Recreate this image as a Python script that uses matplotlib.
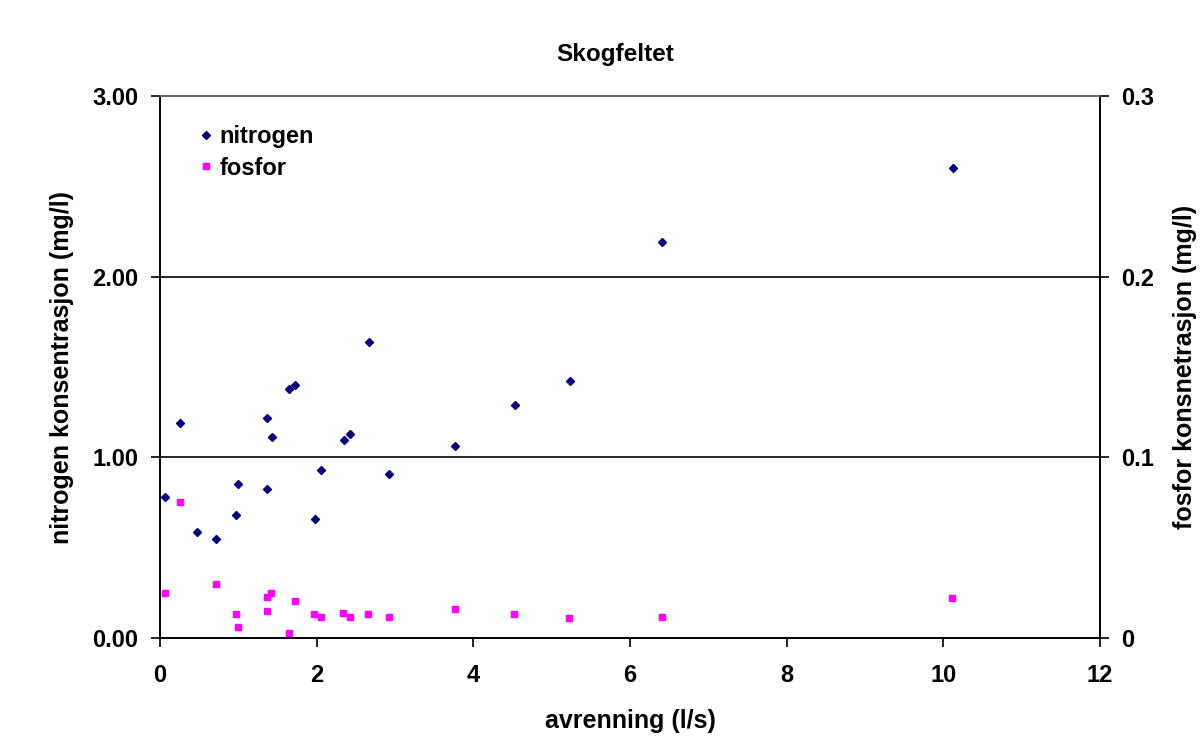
import matplotlib
matplotlib.use("Agg")
import matplotlib.pyplot as plt
from matplotlib.lines import Line2D

# Runoff (l/s) and concentrations, forest catchment
nitrogen_x = [0.07, 0.25, 0.47, 0.72, 0.97, 1.00, 1.37, 1.37, 1.43, 1.65, 1.72,
              1.98, 2.06, 2.35, 2.42, 2.67, 2.92, 3.77, 4.53, 5.23, 6.41, 10.12]
nitrogen_y = [0.78, 1.19, 0.585, 0.55, 0.68, 0.85, 1.22, 0.825, 1.115, 1.38, 1.40,
              0.66, 0.93, 1.095, 1.13, 1.64, 0.91, 1.06, 1.29, 1.425, 2.19, 2.60]

fosfor_x = [0.07, 0.25, 0.71, 0.97, 1.00, 1.37, 1.42, 1.37, 1.65, 1.72, 1.97,
            2.05, 2.34, 2.42, 2.66, 2.92, 3.77, 4.52, 5.22, 6.41, 10.11]
fosfor_y = [0.0249, 0.0753, 0.0297, 0.0131, 0.0063, 0.0229, 0.0249, 0.0151, 0.0028,
            0.0207, 0.0131, 0.0118, 0.0138, 0.0118, 0.0131, 0.0118, 0.0158, 0.0131,
            0.0111, 0.0118, 0.0221]

x_ticks = [0, 2, 4, 6, 8, 10, 12]
left_ticks = [0.0, 1.0, 2.0, 3.0]
left_tick_labels = ["0.00", "1.00", "2.00", "3.00"]
right_ticks = [0.0, 0.1, 0.2, 0.3]
right_tick_labels = ["0", "0.1", "0.2", "0.3"]

plt.rcParams["font.family"] = ["Liberation Sans", "DejaVu Sans"]
plt.rcParams["font.weight"] = "bold"
FS = 17
LFS = 18

fig = plt.figure(figsize=(12.02, 7.42), dpi=100)
ax = fig.add_axes([160 / 1202, 1 - 638 / 742, 940 / 1202, 542 / 742])
ax2 = ax.twinx()

navy = "#000080"
magenta = "#FF00FF"

ax.plot(nitrogen_x, nitrogen_y, linestyle="none", marker="D", ms=4.5,
        color=navy, mec=navy, zorder=3)
ax2.plot(fosfor_x, fosfor_y, linestyle="none", marker="s", ms=5,
         color=magenta, mec=magenta, zorder=3)

ax.set_xlim(0, 12)
ax.set_ylim(0, 3)
ax2.set_ylim(0, 0.3)

ax.set_xticks(x_ticks)
ax.set_xticklabels([str(t) for t in x_ticks])
ax.set_yticks(left_ticks)
ax.set_yticklabels(left_tick_labels)
ax2.set_yticks(right_ticks)
ax2.set_yticklabels(right_tick_labels)

# horizontal gridlines at major left ticks
for yv in left_ticks[1:3]:
    ax.axhline(yv, color="black", lw=1.2, zorder=1)

for a in (ax, ax2):
    for s in a.spines.values():
        s.set_color("black")
        s.set_linewidth(1.2)
    a.spines["top"].set_color("#666666")
    a.tick_params(direction="out", length=6.5, width=1.2, labelsize=FS)

ax.tick_params(axis="x", pad=12)
ax.tick_params(axis="y", pad=9)
ax2.tick_params(axis="y", pad=9)

ax.set_xlabel("avrenning (l/s)", fontsize=LFS, fontweight="bold", labelpad=16)
ax.set_ylabel("nitrogen konsentrasjon (mg/l)", fontsize=LFS, fontweight="bold", labelpad=13)
ax2.set_ylabel("fosfor konsnetrasjon (mg/l)", fontsize=LFS, fontweight="bold",
               rotation=90, labelpad=13)
ax.set_title("Skogfeltet", fontsize=17.5, fontweight="bold", pad=25, x=0.4846)

handles = [
    Line2D([], [], linestyle="none", marker="D", ms=4.0, color=navy, mec=navy),
    Line2D([], [], linestyle="none", marker="s", ms=5, color=magenta, mec=magenta),
]
leg = ax2.legend(handles, ["nitrogen", "fosfor"], loc="upper left",
                 bbox_to_anchor=(0.031, 0.963), borderaxespad=0, frameon=True,
                 fontsize=FS, handlelength=0.6, handletextpad=0.3, borderpad=0.4,
                 labelspacing=0.35, fancybox=False)
leg.get_frame().set_edgecolor("white")
leg.get_frame().set_facecolor("white")

fig.savefig("out.png", dpi=100, facecolor="white")
